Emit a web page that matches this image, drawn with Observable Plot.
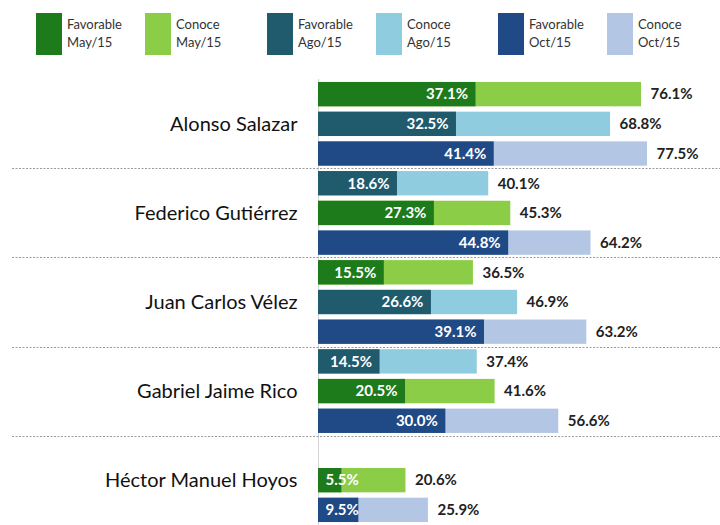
<!DOCTYPE html>
<html><head><meta charset="utf-8">
<script src="https://cdn.jsdelivr.net/npm/d3@7"></script>
<script src="https://cdn.jsdelivr.net/npm/@observablehq/plot@0.6"></script>
<style>
body{margin:0;background:#fff;overflow:hidden;font-family:Lato,"Open Sans",sans-serif;width:720px;height:525px}
#legend{position:relative;height:66px}
.sw{position:absolute;top:13px;width:26px;height:42px}
.lb{position:absolute;top:15px;font-size:13px;line-height:18px;color:#333}
#chart svg{display:block}
</style></head>
<body><div id="legend"></div><div id="chart"></div>
<script>
// ---- data ----
const candidates = ["Alonso Salazar","Federico Gutiérrez","Juan Carlos Vélez","Gabriel Jaime Rico","Héctor Manuel Hoyos"];
const slotPeriods = [["May","Ago","Oct"],["Ago","May","Oct"],["May","Ago","Oct"],["Ago","May","Oct"],[null,"May","Oct"]];
const favorable = [[37.1,32.5,41.4],[18.6,27.3,44.8],[15.5,26.6,39.1],[14.5,20.5,30.0],[null,5.5,9.5]];
const conoce    = [[76.1,68.8,77.5],[40.1,45.3,64.2],[36.5,46.9,63.2],[37.4,41.6,56.6],[null,20.6,25.9]];
const periods = ["May","Ago","Oct"];
const periodLabels = ["May/15","Ago/15","Oct/15"];
const favColors = ["#1e7b1c","#1f5a6d","#1f4a86"];
const conColors = ["#8ccd48","#90cce0","#b3c7e5"];

// ---- legend ----
const legend = document.getElementById("legend");
periods.forEach((p,i)=>{
  [["Favorable",favColors[i]],["Conoce",conColors[i]]].forEach(([kind,col],j)=>{
    const left = 36 + i*231 + j*109;
    const sw = document.createElement("div");
    sw.className="sw"; sw.style.left=left+"px"; sw.style.background=col;
    legend.appendChild(sw);
    const lb = document.createElement("div");
    lb.className="lb"; lb.style.left=(left+31)+"px";
    lb.innerHTML = kind + "<br>" + periodLabels[i];
    legend.appendChild(lb);
  });
});

// ---- rows ----
const rows = [];
candidates.forEach((c,ci)=>slotPeriods[ci].forEach((p,k)=>{
  if (p) rows.push({slot:String(ci*3+k), period:p, fav:favorable[ci][k], con:conoce[ci][k]});
}));
const slots = d3.range(candidates.length*3).map(String);
const fmt = v => v.toFixed(1) + "%";

const plot = Plot.plot({
  width:720, height:459,
  marginLeft:318, marginRight:0, marginTop:13, marginBottom:0,
  x:{domain:[0, 402/4.245], axis:null},
  y:{domain:slots, paddingInner:0.18, paddingOuter:0.1, round:false, axis:null},
  color:{domain:[...periods.map(p=>"fav"+p), ...periods.map(p=>"con"+p)], range:[...favColors, ...conColors]},
  style:{fontFamily:"Lato, 'Open Sans', sans-serif"},
  marks:[
    Plot.ruleX([0], {stroke:"#d4d4d4"}),
    Plot.barX(rows, {x:"con", y:"slot", fill:d=>"con"+d.period}),
    Plot.barX(rows, {x:"fav", y:"slot", fill:d=>"fav"+d.period}),
    Plot.text(rows.filter(d=>d.fav>=12), {x:"fav", y:"slot", text:d=>fmt(d.fav), textAnchor:"end", dx:-8, fill:"white", fontWeight:"bold", fontSize:15}),
    Plot.text(rows.filter(d=>d.fav<12), {x:()=>0, y:"slot", text:d=>fmt(d.fav), textAnchor:"start", dx:7, fill:"white", fontWeight:"bold", fontSize:15}),
    Plot.text(rows, {x:"con", y:"slot", text:d=>fmt(d.con), textAnchor:"start", dx:9, fill:"#222", fontWeight:"bold", fontSize:15}),
    Plot.text(candidates, {x:()=>0, y:(d,i)=>String(i*3+1), text:d=>d, textAnchor:"end", dx:-21, fill:"#111", fontSize:20})
  ]
});
document.getElementById("chart").appendChild(plot);

// group separators drawn from the y scale
const ys = plot.scale("y");
const bw = ys.bandwidth;
const svg = d3.select(plot);
for (let g=0; g<candidates.length-1; g++){
  const a = ys.apply(String(g*3+2)) + bw, b = ys.apply(String(g*3+3));
  const y = Math.round((a+b)/2)+0.5;
  svg.append("line").attr("x1",12).attr("x2",720).attr("y1",y).attr("y2",y)
    .attr("stroke","#9a9a9a").attr("stroke-width",1).attr("stroke-dasharray","2,1.5");
}
</script>
</body></html>
